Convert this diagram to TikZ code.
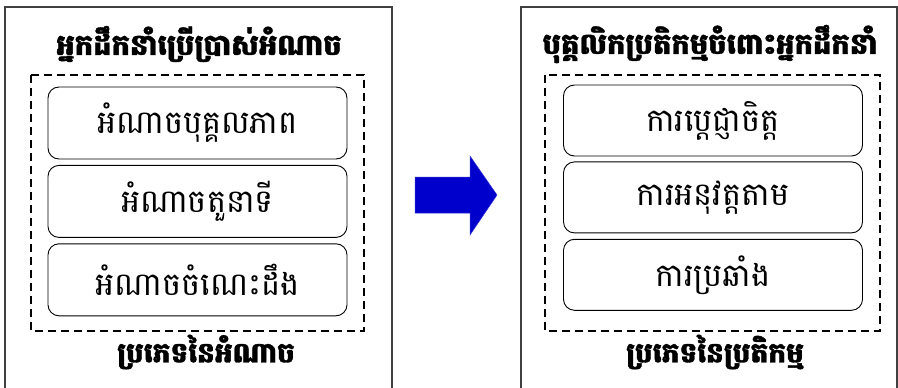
\documentclass[tikz,border=0pt]{standalone}
\usepackage{fontspec}
\newfontfamily\khmer[Script=Khmer, BoldFeatures={FakeBold=1.2}]{Battambang}
\usetikzlibrary{positioning}

\definecolor{arrowblue}{RGB}{0,0,204}
\definecolor{framegray}{RGB}{64,64,64}

\tikzset{
    panel/.style={draw=framegray, line width=1.3pt},
    groupbox/.style={draw, line width=1.6pt, dash pattern=on 8pt off 5pt},
    itembox/.style={draw, line width=0.9pt, rounded corners=11pt,
        minimum width=299pt, minimum height=72pt, inner sep=0pt,
        font=\khmer\fontsize{32}{32}\selectfont},
    heading/.style={inner sep=0pt, font=\khmer\bfseries\fontsize{29}{29}\selectfont},
}

\begin{document}
\begin{tikzpicture}[x=1pt, y=-1pt]
    \useasboundingbox (0,0) rectangle (898,388);

    % Outer panels, open at the bottom
    \draw[panel] (5,400) -- (5,7) -- (392,7) -- (392,400);
    \draw[panel] (521,400) -- (521,7) -- (897,7) -- (897,400);

    % Dashed groups
    \draw[groupbox] (31,75) rectangle (364,331);
    \draw[groupbox] (545,75) rectangle (880,331);

    % Headings
    \node[heading] (leadtitle) at (199,44) {អ្នកដឹកនាំប្រើប្រាស់អំណាច};
    \node[heading] (stafftitle) at (710,44) {បុគ្គលិកប្រតិកម្មចំពោះអ្នកដឹកនាំ};

    % Kinds of power
    \node[itembox] (power1) at (197.5,123) {អំណាចបុគ្គលភាព};
    \node[itembox, below=5.5pt of power1] (power2) {អំណាចតួនាទី};
    \node[itembox, below=5.5pt of power2] (power3) {អំណាចចំណេះដឹង};

    % Kinds of reaction
    \node[itembox, minimum height=71pt] (react1) at (713,120.5) {ការប្តេជ្ញាចិត្ត};
    \node[itembox, minimum height=71pt, below=5pt of react1] (react2) {ការអនុវត្តតាម};
    \node[itembox, minimum height=71pt, below=5.5pt of react2] (react3) {ការប្រឆាំង};

    % Captions
    \node[heading, font=\khmer\bfseries\fontsize{28}{28}\selectfont] (powertype) at (206,352) {ប្រភេទនៃអំណាច};
    \node[heading, font=\khmer\bfseries\fontsize{28}{28}\selectfont] (reacttype) at (715,352) {ប្រភេទនៃប្រតិកម្ម};

    % Block arrow between the panels
    \filldraw[fill=arrowblue, draw=arrowblue!80!white, line width=0.5pt]
        (415,177) -- (470,177) -- (470,156) -- (497,195)
        -- (470,235) -- (470,213) -- (415,213) -- cycle;
\end{tikzpicture}
\end{document}
